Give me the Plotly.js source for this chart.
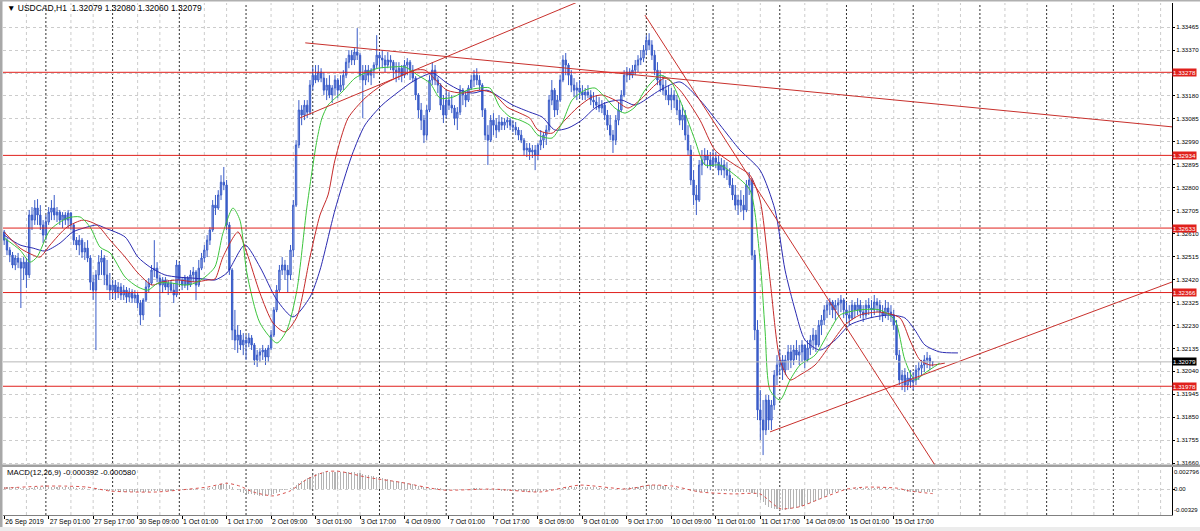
<!DOCTYPE html>
<html><head><meta charset="utf-8">
<script src="https://cdn.plot.ly/plotly-3.0.1.min.js"></script>
<style>html,body{margin:0;padding:0;background:#fff;}#chart{width:1200px;height:531px;}</style>
</head><body><div id="chart"></div>
<script>
// ---- DATA ----
const symbolTitle = "\u25BC USDCAD,H1&nbsp;&nbsp;1.32079 1.32080 1.32060 1.32079";
const macdTitle = "MACD(12,26,9) -0.000392 -0.000580";
const timeTickBars = [0,16,32,48,64,80,96,112,128,144,160,176,192,208,224,240,256,272,288,304,320];
const timeTickLabels = ["26 Sep 2019","27 Sep 01:00","27 Sep 17:00","30 Sep 09:00","1 Oct 01:00","1 Oct 17:00","2 Oct 09:00","3 Oct 01:00","3 Oct 17:00","4 Oct 09:00","7 Oct 01:00","7 Oct 17:00","8 Oct 09:00","9 Oct 01:00","9 Oct 17:00","10 Oct 09:00","11 Oct 01:00","11 Oct 17:00","14 Oct 09:00","15 Oct 01:00","15 Oct 17:00"];
const priceTicks = [1.31660,1.31755,1.31850,1.31945,1.32040,1.32135,1.32230,1.32325,1.32420,1.32515,1.32610,1.32705,1.32800,1.32895,1.32990,1.33085,1.33180,1.33275,1.33370,1.33465];
const priceTickLabels = ["1.31660","1.31755","1.31850","1.31945","1.32040","1.32135","1.32230","1.32325","1.32420","1.32515","1.32610","1.32705","1.32800","1.32895","1.32990","1.33085","1.33180","","1.33370","1.33465"];
const levels = [1.33278,1.32934,1.32633,1.32366,1.31978];
const lastPrice = 1.32079;
const macdScale = [0.002796, 0, -0.00329];
const macdScaleLabels = ['0.002796', '0.00', '-0.00329'];

const opens = [
1.32617,1.32583,1.32542,1.32521,1.32480,1.32509,1.32492,1.32467,1.32492,1.32439,
1.32687,1.32666,1.32716,1.32687,1.32646,1.32604,1.32658,1.32699,1.32716,1.32687,
1.32699,1.32666,1.32687,1.32666,1.32695,1.32646,1.32583,1.32563,1.32583,1.32534,
1.32550,1.32509,1.32409,1.32376,1.32439,1.32492,1.32509,1.32439,1.32397,1.32376,
1.32397,1.32368,1.32389,1.32356,1.32376,1.32347,1.32368,1.32343,1.32356,1.32323,
1.32273,1.32335,1.32389,1.32405,1.32459,1.32467,1.32426,1.32397,1.32418,1.32389,
1.32405,1.32376,1.32356,1.32480,1.32418,1.32397,1.32426,1.32397,1.32439,1.32451,
1.32397,1.32467,1.32509,1.32542,1.32583,1.32625,1.32728,1.32716,1.32770,1.32823,
1.32811,1.32646,1.32459,1.32211,1.32169,1.32190,1.32149,1.32169,1.32157,1.32178,
1.32149,1.32087,1.32107,1.32120,1.32128,1.32099,1.32136,1.32190,1.32294,1.32376,
1.32459,1.32480,1.32459,1.32439,1.32542,1.32728,1.32977,1.33122,1.33101,1.33142,
1.33113,1.33225,1.33266,1.33246,1.33279,1.33254,1.33204,1.33225,1.33184,1.33213,
1.33246,1.33204,1.33225,1.33266,1.33320,1.33349,1.33329,1.33362,1.33349,1.33266,
1.33246,1.33287,1.33266,1.33287,1.33308,1.33349,1.33337,1.33329,1.33308,1.33329,
1.33320,1.33287,1.33279,1.33295,1.33266,1.33308,1.33320,1.33287,1.33254,1.33184,
1.33122,1.33080,1.33018,1.33122,1.33246,1.33287,1.33246,1.33225,1.33142,1.33101,
1.33163,1.33142,1.33130,1.33088,1.33113,1.33204,1.33184,1.33163,1.33213,1.33246,
1.33266,1.33246,1.33225,1.33122,1.33018,1.32997,1.33080,1.33059,1.33039,1.33072,
1.33059,1.33072,1.33080,1.33059,1.33051,1.33039,1.33018,1.32997,1.32956,1.32964,
1.32948,1.32956,1.32935,1.32977,1.32997,1.33018,1.33039,1.33163,1.33204,1.33122,
1.33163,1.33246,1.33329,1.33308,1.33266,1.33225,1.33204,1.33213,1.33196,1.33184,
1.33196,1.33184,1.33163,1.33155,1.33142,1.33130,1.33142,1.33101,1.33059,1.33018,
1.32997,1.33080,1.33122,1.33184,1.33266,1.33279,1.33266,1.33287,1.33308,1.33329,
1.33337,1.33370,1.33411,1.33391,1.33349,1.33287,1.33246,1.33225,1.33204,1.33184,
1.33163,1.33184,1.33163,1.33122,1.33080,1.33101,1.33018,1.32956,1.32832,1.32770,
1.32749,1.32894,1.32915,1.32935,1.32915,1.32894,1.32923,1.32906,1.32873,1.32894,
1.32873,1.32852,1.32811,1.32770,1.32728,1.32749,1.32728,1.32708,1.32811,1.32832,
1.32521,1.32211,1.31880,1.31838,1.31797,1.31921,1.31838,1.31900,1.32024,1.32066,
1.32087,1.32045,1.32087,1.32120,1.32087,1.32128,1.32107,1.32120,1.32149,1.32087,
1.32136,1.32169,1.32190,1.32149,1.32231,1.32252,1.32294,1.32314,1.32327,1.32294,
1.32314,1.32323,1.32335,1.32294,1.32273,1.32260,1.32314,1.32294,1.32314,1.32285,
1.32273,1.32314,1.32302,1.32294,1.32327,1.32314,1.32285,1.32273,1.32302,1.32285,
1.32273,1.32231,1.32107,1.32004,1.32024,1.31983,1.32012,1.31996,1.32004,1.32045,
1.32053,1.32066,1.32087,1.32095,1.32079];
const highs = [
1.32625,1.32592,1.32554,1.32534,1.32521,1.32530,1.32509,1.32513,1.32509,1.32708,
1.32720,1.32749,1.32753,1.32728,1.32666,1.32687,1.32720,1.32749,1.32770,1.32720,
1.32708,1.32699,1.32699,1.32708,1.32699,1.32654,1.32596,1.32604,1.32592,1.32575,
1.32583,1.32521,1.32439,1.32459,1.32521,1.32542,1.32521,1.32501,1.32447,1.32418,
1.32418,1.32409,1.32405,1.32397,1.32389,1.32385,1.32380,1.32376,1.32368,1.32335,
1.32343,1.32418,1.32426,1.32480,1.32583,1.32492,1.32439,1.32430,1.32430,1.32418,
1.32418,1.32405,1.32501,1.32492,1.32430,1.32439,1.32434,1.32459,1.32472,1.32459,
1.32501,1.32530,1.32563,1.32604,1.32637,1.32749,1.32770,1.32790,1.32852,1.32886,
1.32832,1.32658,1.32467,1.32294,1.32231,1.32211,1.32198,1.32190,1.32198,1.32190,
1.32157,1.32128,1.32136,1.32149,1.32136,1.32149,1.32211,1.32306,1.32397,1.32480,
1.32513,1.32501,1.32480,1.32563,1.32749,1.32997,1.33163,1.33142,1.33163,1.33163,
1.33246,1.33300,1.33308,1.33308,1.33295,1.33279,1.33254,1.33266,1.33225,1.33266,
1.33254,1.33266,1.33287,1.33337,1.33370,1.33370,1.33378,1.33461,1.33358,1.33308,
1.33308,1.33308,1.33295,1.33320,1.33432,1.33362,1.33370,1.33349,1.33362,1.33349,
1.33329,1.33320,1.33320,1.33308,1.33329,1.33337,1.33329,1.33308,1.33262,1.33192,
1.33151,1.33101,1.33142,1.33266,1.33320,1.33308,1.33258,1.33233,1.33184,1.33204,
1.33196,1.33184,1.33142,1.33134,1.33225,1.33213,1.33196,1.33225,1.33266,1.33287,
1.33295,1.33266,1.33233,1.33130,1.33059,1.33101,1.33109,1.33088,1.33101,1.33093,
1.33088,1.33093,1.33088,1.33080,1.33072,1.33051,1.33039,1.33006,1.32985,1.32985,
1.32977,1.32977,1.32985,1.33039,1.33030,1.33059,1.33184,1.33246,1.33213,1.33184,
1.33266,1.33349,1.33358,1.33316,1.33287,1.33254,1.33237,1.33246,1.33225,1.33213,
1.33225,1.33204,1.33196,1.33184,1.33175,1.33163,1.33155,1.33122,1.33101,1.33039,
1.33101,1.33151,1.33204,1.33287,1.33300,1.33295,1.33308,1.33329,1.33349,1.33370,
1.33391,1.33432,1.33440,1.33411,1.33370,1.33320,1.33287,1.33266,1.33246,1.33225,
1.33213,1.33204,1.33184,1.33163,1.33142,1.33122,1.33059,1.32977,1.32873,1.32811,
1.32915,1.32956,1.32964,1.32956,1.32948,1.32956,1.32948,1.32935,1.32923,1.32915,
1.32906,1.32881,1.32840,1.32811,1.32770,1.32790,1.32770,1.32832,1.32865,1.32840,
1.32542,1.32252,1.31962,1.31921,1.31942,1.31942,1.31921,1.32045,1.32107,1.32128,
1.32107,1.32107,1.32149,1.32149,1.32149,1.32169,1.32149,1.32169,1.32149,1.32169,
1.32190,1.32219,1.32211,1.32252,1.32273,1.32314,1.32335,1.32343,1.32335,1.32335,
1.32343,1.32356,1.32343,1.32327,1.32314,1.32335,1.32327,1.32343,1.32335,1.32314,
1.32335,1.32343,1.32335,1.32356,1.32343,1.32335,1.32314,1.32335,1.32327,1.32314,
1.32294,1.32252,1.32128,1.32045,1.32053,1.32037,1.32045,1.32037,1.32066,1.32078,
1.32087,1.32107,1.32120,1.32107,1.32080];
const lows = [
1.32563,1.32521,1.32492,1.32467,1.32459,1.32467,1.32302,1.32418,1.32385,1.32426,
1.32625,1.32646,1.32646,1.32625,1.32571,1.32583,1.32646,1.32666,1.32666,1.32658,
1.32646,1.32633,1.32646,1.32633,1.32625,1.32563,1.32542,1.32521,1.32509,1.32501,
1.32492,1.32376,1.32335,1.32128,1.32418,1.32439,1.32397,1.32376,1.32335,1.32343,
1.32335,1.32343,1.32335,1.32335,1.32323,1.32327,1.32323,1.32323,1.32302,1.32231,
1.32252,1.32327,1.32368,1.32397,1.32430,1.32409,1.32265,1.32364,1.32376,1.32356,
1.32364,1.32323,1.32347,1.32397,1.32376,1.32385,1.32376,1.32389,1.32409,1.32335,
1.32389,1.32459,1.32492,1.32513,1.32563,1.32617,1.32687,1.32708,1.32749,1.32790,
1.32625,1.32439,1.32169,1.32128,1.32116,1.32128,1.32107,1.32087,1.32140,1.32128,
1.32066,1.32058,1.32078,1.32087,1.32066,1.32078,1.32128,1.32182,1.32285,1.32368,
1.32439,1.32418,1.32368,1.32418,1.32513,1.32720,1.32964,1.33059,1.33080,1.33088,
1.33101,1.33204,1.33233,1.33237,1.33237,1.33184,1.33163,1.33171,1.33151,1.33184,
1.33171,1.33196,1.33204,1.33254,1.33295,1.33308,1.33308,1.33329,1.33246,1.33088,
1.33225,1.33237,1.33225,1.33254,1.33295,1.33287,1.33295,1.33279,1.33295,1.33287,
1.33254,1.33237,1.33246,1.33237,1.33254,1.33266,1.33246,1.33237,1.33163,1.33088,
1.33039,1.32985,1.32997,1.33113,1.33225,1.33225,1.33192,1.33122,1.33068,1.33088,
1.33122,1.33109,1.33059,1.33039,1.33101,1.33142,1.33134,1.33155,1.33204,1.33217,
1.33225,1.33204,1.33093,1.32997,1.32894,1.32989,1.33018,1.33006,1.33030,1.33039,
1.33039,1.33047,1.33039,1.33030,1.33018,1.32997,1.32985,1.32935,1.32927,1.32915,
1.32923,1.32873,1.32915,1.32956,1.32964,1.32977,1.33030,1.33142,1.33093,1.33101,
1.33155,1.33237,1.33266,1.33225,1.33196,1.33175,1.33163,1.33171,1.33163,1.33163,
1.33171,1.33142,1.33130,1.33122,1.33113,1.33109,1.33080,1.33039,1.32997,1.32944,
1.32977,1.33059,1.33113,1.33175,1.33237,1.33246,1.33254,1.33266,1.33279,1.33308,
1.33320,1.33349,1.33370,1.33329,1.33266,1.33225,1.33196,1.33184,1.33163,1.33142,
1.33122,1.33130,1.33101,1.33059,1.33039,1.32997,1.32935,1.32811,1.32728,1.32687,
1.32741,1.32852,1.32894,1.32881,1.32873,1.32886,1.32881,1.32852,1.32852,1.32840,
1.32832,1.32799,1.32749,1.32708,1.32687,1.32699,1.32666,1.32699,1.32770,1.32501,
1.32169,1.31838,1.31755,1.31693,1.31776,1.31797,1.31797,1.31880,1.31983,1.32024,
1.32004,1.32024,1.32045,1.32053,1.32066,1.32087,1.32066,1.32078,1.32053,1.32078,
1.32107,1.32128,1.32120,1.32140,1.32190,1.32231,1.32260,1.32273,1.32260,1.32252,
1.32273,1.32285,1.32260,1.32244,1.32231,1.32252,1.32260,1.32273,1.32260,1.32244,
1.32260,1.32273,1.32260,1.32273,1.32285,1.32252,1.32244,1.32260,1.32252,1.32244,
1.32211,1.32087,1.31983,1.31962,1.31954,1.31962,1.31971,1.31962,1.31983,1.32004,
1.32024,1.32037,1.32053,1.32045,1.32060];
const closes = [
1.32583,1.32542,1.32521,1.32480,1.32509,1.32492,1.32467,1.32492,1.32439,1.32687,
1.32666,1.32716,1.32687,1.32646,1.32604,1.32658,1.32699,1.32716,1.32687,1.32699,
1.32666,1.32687,1.32666,1.32695,1.32646,1.32583,1.32563,1.32583,1.32534,1.32550,
1.32509,1.32409,1.32376,1.32439,1.32492,1.32509,1.32439,1.32397,1.32376,1.32397,
1.32368,1.32389,1.32356,1.32376,1.32347,1.32368,1.32343,1.32356,1.32323,1.32273,
1.32335,1.32389,1.32405,1.32459,1.32467,1.32426,1.32397,1.32418,1.32389,1.32405,
1.32376,1.32356,1.32480,1.32418,1.32397,1.32426,1.32397,1.32439,1.32451,1.32397,
1.32467,1.32509,1.32542,1.32583,1.32625,1.32728,1.32716,1.32770,1.32823,1.32811,
1.32646,1.32459,1.32211,1.32169,1.32190,1.32149,1.32169,1.32157,1.32178,1.32149,
1.32087,1.32107,1.32120,1.32128,1.32099,1.32136,1.32190,1.32294,1.32376,1.32459,
1.32480,1.32459,1.32439,1.32542,1.32728,1.32977,1.33122,1.33101,1.33142,1.33113,
1.33225,1.33266,1.33246,1.33279,1.33254,1.33204,1.33225,1.33184,1.33213,1.33246,
1.33204,1.33225,1.33266,1.33320,1.33349,1.33329,1.33362,1.33349,1.33266,1.33246,
1.33287,1.33266,1.33287,1.33308,1.33349,1.33337,1.33329,1.33308,1.33329,1.33320,
1.33287,1.33279,1.33295,1.33266,1.33308,1.33320,1.33287,1.33254,1.33184,1.33122,
1.33080,1.33018,1.33122,1.33246,1.33287,1.33246,1.33225,1.33142,1.33101,1.33163,
1.33142,1.33130,1.33088,1.33113,1.33204,1.33184,1.33163,1.33213,1.33246,1.33266,
1.33246,1.33225,1.33122,1.33018,1.32997,1.33080,1.33059,1.33039,1.33072,1.33059,
1.33072,1.33080,1.33059,1.33051,1.33039,1.33018,1.32997,1.32956,1.32964,1.32948,
1.32956,1.32935,1.32977,1.32997,1.33018,1.33039,1.33163,1.33204,1.33122,1.33163,
1.33246,1.33329,1.33308,1.33266,1.33225,1.33204,1.33213,1.33196,1.33184,1.33196,
1.33184,1.33163,1.33155,1.33142,1.33130,1.33142,1.33101,1.33059,1.33018,1.32997,
1.33080,1.33122,1.33184,1.33266,1.33279,1.33266,1.33287,1.33308,1.33329,1.33337,
1.33370,1.33411,1.33391,1.33349,1.33287,1.33246,1.33225,1.33204,1.33184,1.33163,
1.33184,1.33163,1.33122,1.33080,1.33101,1.33018,1.32956,1.32832,1.32770,1.32749,
1.32894,1.32915,1.32935,1.32915,1.32894,1.32923,1.32906,1.32873,1.32894,1.32873,
1.32852,1.32811,1.32770,1.32728,1.32749,1.32728,1.32708,1.32811,1.32832,1.32521,
1.32211,1.31880,1.31838,1.31797,1.31921,1.31838,1.31900,1.32024,1.32066,1.32087,
1.32045,1.32087,1.32120,1.32087,1.32128,1.32107,1.32120,1.32149,1.32087,1.32136,
1.32169,1.32190,1.32149,1.32231,1.32252,1.32294,1.32314,1.32327,1.32294,1.32314,
1.32323,1.32335,1.32294,1.32273,1.32260,1.32314,1.32294,1.32314,1.32285,1.32273,
1.32314,1.32302,1.32294,1.32327,1.32314,1.32285,1.32273,1.32302,1.32285,1.32273,
1.32231,1.32107,1.32004,1.32024,1.31983,1.32012,1.31996,1.32004,1.32045,1.32053,
1.32066,1.32087,1.32095,1.32078,1.32079];

// Alligator lines: bar position / price
const jawBars = [0,5.7,10.4,14.7,20.1,24.7,29.8,33.4,36.3,43.5,48.1,52.4,57.8,62.5,67.6,72.2,75.8,80.1,86.6,92,98.1,103.9,110,113.6,119,125.1,129.8,135.9,141.7,146.7,151.4,154.2,159.3,164,168.6,173.7,178.3,183,189.1,193.5,198.1,202.8,207.8,212.5,217.2,222.2,226.9,235.9,243.1,250.3,257.5,264.7,271.9,277.3,280.9,284.5,288.1,293.5,298.9,304.2,311.4,318.6,324,327.6,331.2,336.6,343.1];
const jawValues = [1.32604,1.32563,1.32550,1.32538,1.32571,1.32617,1.32637,1.32646,1.32633,1.32596,1.32513,1.32472,1.32439,1.32430,1.32426,1.32422,1.32418,1.32447,1.32563,1.32472,1.32335,1.32265,1.32347,1.32459,1.32708,1.32935,1.33060,1.33142,1.33196,1.33238,1.33266,1.33275,1.33233,1.33204,1.33192,1.33204,1.33175,1.33142,1.33113,1.33093,1.33039,1.33047,1.33080,1.33130,1.33155,1.33163,1.33142,1.33204,1.33238,1.33163,1.33060,1.32956,1.32873,1.32708,1.32459,1.32294,1.32169,1.32128,1.32169,1.32232,1.32261,1.32273,1.32261,1.32211,1.32149,1.32120,1.32116];
const teethBars = [0,5.7,10.4,12.9,16.5,22.6,28.4,33.4,38.1,43.5,48.1,53.2,56.8,62.5,68.6,73.3,75.8,78.7,84.1,87.3,92,96.7,101,105.3,110,113.6,116.5,119,123.7,129.8,135.9,141.7,147.8,151.4,154.2,159.3,165,171.1,175.8,180.9,185.5,189.1,192,197.1,201.7,206.4,211.4,215.1,219.7,224.4,228.7,234.1,237.7,243.1,250.3,255.7,262.9,268.3,271.9,275.5,279.1,282.7,286.3,291.7,297.1,302.5,307.8,315,322.2,325.8,329.4,333,338.4];
const teethValues = [1.32617,1.32550,1.32521,1.32513,1.32563,1.32637,1.32666,1.32646,1.32583,1.32513,1.32447,1.32397,1.32410,1.32418,1.32410,1.32418,1.32422,1.32513,1.32617,1.32530,1.32364,1.32240,1.32203,1.32265,1.32513,1.32687,1.32770,1.32915,1.33088,1.33171,1.33225,1.33258,1.33287,1.33287,1.33258,1.33204,1.33192,1.33204,1.33192,1.33134,1.33109,1.33088,1.33039,1.33026,1.33080,1.33134,1.33175,1.33184,1.33163,1.33130,1.33163,1.33225,1.33254,1.33204,1.33080,1.32956,1.32894,1.32852,1.32749,1.32418,1.32087,1.32004,1.32025,1.32066,1.32149,1.32232,1.32273,1.32285,1.32261,1.32169,1.32087,1.32066,1.32074];
const lipsBars = [0,5.7,9.3,11.8,16.5,22.6,27.3,30.9,34.5,38.1,43.5,48.1,51.7,55.3,60.4,65,68.6,72.2,75.8,78.7,82.3,84.8,87.3,92,98.1,101.7,105.3,108.9,112.5,114.3,116.5,121.5,126.2,129.8,134.5,139.5,144.2,148.8,153.2,156.8,161.4,166.5,171.1,174.7,178.3,182,185.5,189.1,192,197.1,200.7,204.3,208.9,212.5,216.1,219.7,223.3,226.9,230.5,235.9,239.5,243.1,248.5,252.1,257.5,262.9,268.3,271.9,273.7,275.5,279.1,282.7,286.3,291.7,297.1,300.7,307.8,315,320.4,324,327.6,331.2,336.6];
const lipsValues = [1.32592,1.32542,1.32492,1.32513,1.32625,1.32674,1.32679,1.32637,1.32554,1.32530,1.32430,1.32389,1.32376,1.32405,1.32405,1.32397,1.32405,1.32430,1.32472,1.32612,1.32716,1.32666,1.32447,1.32240,1.32157,1.32211,1.32376,1.32720,1.32997,1.33088,1.33142,1.33196,1.33254,1.33275,1.33295,1.33300,1.33300,1.33266,1.33233,1.33171,1.33175,1.33204,1.33213,1.33213,1.33134,1.33093,1.33080,1.33059,1.33018,1.33006,1.33068,1.33163,1.33204,1.33213,1.33175,1.33130,1.33109,1.33134,1.33204,1.33266,1.33246,1.33163,1.32997,1.32894,1.32894,1.32852,1.32790,1.32501,1.32211,1.31962,1.31921,1.32004,1.32066,1.32107,1.32211,1.32273,1.32294,1.32294,1.32252,1.32087,1.32004,1.32033,1.32074];

// Trend lines drawn on the chart: [bar0, price0, bar1, price1]
const trendLines = [
  [106.4, 1.33089, 215.0, 1.33611],
  [108.3, 1.33400, 420.2, 1.33052],
  [230.5, 1.33515, 334.8, 1.31652],
  [275.5, 1.31789, 420.2, 1.32410]
];

// MACD(12,26,9): main (histogram) per bar, signal sampled
const macdMain = [
0.00025,0.00026,0.00025,0.00023,0.00020,0.00018,0.00015,0.00012,0.00010,0.00012,0.00016,0.00020,0.00023,0.00025,0.00026,0.00027,
0.00028,0.00029,0.00030,0.00030,0.00029,0.00028,0.00027,0.00026,0.00024,0.00021,0.00018,0.00015,0.00012,0.00009,0.00006,0.00002,-0.00003,-0.00007,-0.00008,-0.00009,-0.00012,-0.00016,-0.00020,
-0.00024,-0.00027,-0.00029,-0.00031,-0.00033,-0.00035,-0.00036,-0.00037,-0.00038,-0.00040,-0.00043,-0.00042,-0.00038,-0.00034,-0.00030,-0.00026,-0.00024,-0.00022,-0.00021,-0.00020,-0.00020,-0.00020,
-0.00020,-0.00016,-0.00014,-0.00012,-0.00011,-0.00010,-0.00008,-0.00006,-0.00005,-0.00002,
0.00002,0.00007,0.00013,0.00019,0.00030,0.00040,0.00050,0.00060,0.00066,0.00062,0.00046,0.00022,
0.00000,-0.00018,-0.00032,-0.00044,-0.00054,-0.00062,-0.00068,-0.00075,-0.00080,-0.00082,-0.00083,-0.00082,-0.00080,-0.00074,-0.00062,
-0.00048,-0.00032,-0.00018,-0.00008,0.00000,0.00008,0.00025,
0.00050,0.00078,0.00100,0.00120,0.00138,0.00158,0.00176,0.00190,0.00200,0.00208,0.00212,
0.00214,0.00214,0.00213,0.00213,0.00212,0.00211,0.00211,0.00212,0.00214,0.00215,
0.00210,0.00205,0.00198,0.00190,0.00182,0.00175,0.00168,0.00160,0.00152,0.00145,0.00138,0.00130,0.00122,0.00115,0.00108,0.00100,0.00094,0.00088,0.00082,0.00076,
0.00070,0.00064,0.00055,0.00045,0.00035,0.00024,0.00016,0.00014,0.00014,0.00013,0.00011,0.00008,0.00004,0.00001,-0.00001,
-0.00002,-0.00004,-0.00004,-0.00002,0.00000,0.00001,0.00003,0.00006,0.00008,0.00009,0.00009,0.00006,0.00000,-0.00006,-0.00010,-0.00013,-0.00016,-0.00018,-0.00019,-0.00020,-0.00021,-0.00022,-0.00023,-0.00024,-0.00025,-0.00027,-0.00029,-0.00031,-0.00032,-0.00033,
-0.00034,-0.00033,-0.00030,-0.00027,-0.00023,-0.00015,-0.00008,-0.00004,0.00000,0.00006,
0.00014,0.00020,0.00024,0.00026,0.00027,0.00028,0.00028,0.00028,0.00027,0.00026,0.00025,0.00023,0.00021,0.00019,0.00017,0.00014,0.00010,0.00005,0.00001,0.00000,0.00001,0.00005,0.00011,0.00016,0.00020,
0.00024,0.00028,0.00032,0.00036,0.00040,0.00045,0.00049,0.00050,0.00049,0.00046,0.00042,0.00038,0.00033,0.00028,0.00023,
0.00018,0.00013,0.00007,0.00002,-0.00005,-0.00012,-0.00021,-0.00030,-0.00036,-0.00036,-0.00035,-0.00033,-0.00031,-0.00029,-0.00027,-0.00026,-0.00026,-0.00026,-0.00026,-0.00027,-0.00029,-0.00032,-0.00036,-0.00039,-0.00041,-0.00043,-0.00042,-0.00040,
-0.00048,-0.00068,-0.00100,-0.00135,-0.00170,-0.00198,-0.00222,-0.00240,-0.00250,-0.00256,-0.00260,-0.00262,
-0.00262,-0.00258,-0.00253,-0.00246,-0.00238,-0.00228,-0.00218,-0.00206,-0.00194,-0.00180,-0.00166,-0.00150,-0.00133,-0.00116,-0.00098,-0.00080,-0.00064,-0.00050,-0.00038,-0.00027,
-0.00018,-0.00010,-0.00004,0.00001,0.00005,0.00008,0.00010,0.00011,0.00012,0.00012,0.00012,0.00012,0.00012,0.00012,0.00011,0.00010,0.00009,0.00008,0.00007,0.00005,
-0.00001,-0.00010,-0.00018,-0.00025,-0.00031,-0.00035,-0.00038,-0.00040,-0.00041,-0.00041,-0.00041,-0.00040,-0.00040,-0.000392];
const signalBars = [0,14,22.6,29.8,38.1,46.3,55,63.2,73,80.1,84.8,89.5,96.7,102.8,108.9,116.1,120.8,130.5,142.4,157.8,175.8,192.7,207.1,224,232.3,240.6,250.3,262.2,271.9,279.1,286.3,293.5,303.2,310.4,321.1,325.8,334];
const signalValues = [0.00012,0.00037,0.00037,0.00025,-0.00025,-0.00037,-0.00037,-0.00012,0.00025,0.00074,0.00037,-0.00037,-0.00087,-0.00025,0.00124,0.00223,0.00223,0.00149,0.00087,-0.00012,0.0,-0.00037,0.0005,0.0,0.0005,0.00037,-0.00037,-0.00062,-0.00062,-0.00248,-0.00223,-0.00124,0.0,0.00025,0.00012,-0.00025,-0.00058];

// ---- CHART ----
const barIndex = opens.map((_, i) => i);
const FONT = 'Liberation Sans, Arial, sans-serif';
const W = 1200, H = 531, ML = 3, MR = 28, MT = 3, MB = 16;
const plotH = H - MT - MB;
const py = p => (H - MB - p) / plotH;          // pixel row -> paper y
const pxp = p => (p - ML) / (W - ML - MR);       // pixel col -> paper x

const traces = [];
traces.push({
  type: 'candlestick', x: barIndex, open: opens, high: highs, low: lows, close: closes,
  xaxis: 'x', yaxis: 'y', whiskerwidth: 0, hoverinfo: 'skip', showlegend: false,
  increasing: {line: {color: '#3a5cc8', width: 1}, fillcolor: '#a8b9e6'},
  decreasing: {line: {color: '#3a5cc8', width: 1}, fillcolor: '#3a5cc8'}
});
const maLine = (xs, ys, color) => ({type: 'scatter', mode: 'lines', x: xs, y: ys, xaxis: 'x', yaxis: 'y',
  line: {color: color, width: 1, shape: 'spline', smoothing: 0.7}, hoverinfo: 'skip', showlegend: false});
traces.push(maLine(jawBars, jawValues, '#2a2ab0'));
traces.push(maLine(teethBars, teethValues, '#c42a2a'));
traces.push(maLine(lipsBars, lipsValues, '#3cc43c'));
trendLines.forEach(t => traces.push({type: 'scatter', mode: 'lines', x: [t[0], t[2]], y: [t[1], t[3]],
  xaxis: 'x', yaxis: 'y', line: {color: '#c8302c', width: 1}, hoverinfo: 'skip', showlegend: false}));
traces.push({type: 'bar', x: barIndex, y: macdMain, xaxis: 'x', yaxis: 'y2', width: 0.38,
  marker: {color: '#b4b4b4', line: {width: 0}}, hoverinfo: 'skip', showlegend: false});
traces.push({type: 'scatter', mode: 'lines', x: signalBars, y: signalValues, xaxis: 'x', yaxis: 'y2',
  line: {color: '#d9534f', width: 1, dash: 'dot', shape: 'spline', smoothing: 0.6}, hoverinfo: 'skip', showlegend: false});

const shapes = [];
for (let b = 8; b <= 420; b += 8) {
  if (b % 24 === 16) continue;
  shapes.push({type: 'line', xref: 'x', yref: 'paper', x0: b, x1: b, y0: 0, y1: 1, layer: 'below',
    line: {color: '#cccccc', width: 1, dash: '3px,3px'}});
}
for (let b = 15; b <= 420; b += 24) {
  shapes.push({type: 'line', xref: 'x', yref: 'paper', x0: b, x1: b, y0: 0, y1: 1, layer: 'below',
    line: {color: '#303030', width: 1, dash: '2px,2px'}});
}
levels.forEach(v => shapes.push({type: 'line', xref: 'paper', yref: 'y', x0: 0, x1: 1, y0: v, y1: v,
  line: {color: '#e0201c', width: 1}}));
shapes.push({type: 'line', xref: 'paper', yref: 'y', x0: 0, x1: 1, y0: lastPrice, y1: lastPrice,
  line: {color: '#b8b8b8', width: 1}});
shapes.push({type: 'rect', xref: 'paper', yref: 'paper', x0: pxp(0), x1: pxp(1200), y0: py(467), y1: py(464.5),
  fillcolor: '#a0a0a0', line: {width: 0}});
shapes.push({type: 'rect', xref: 'paper', yref: 'paper', x0: pxp(0), x1: pxp(2.5), y0: py(531), y1: py(0),
  fillcolor: '#a8a8a8', line: {width: 0}});
shapes.push({type: 'rect', xref: 'paper', yref: 'paper', x0: pxp(0), x1: pxp(1200), y0: py(1.5), y1: py(0),
  fillcolor: '#b0b0b0', line: {width: 0}});
shapes.push({type: 'rect', xref: 'paper', yref: 'paper', x0: pxp(0), x1: pxp(1200), y0: py(531), y1: py(527),
  fillcolor: '#ececec', line: {width: 0}});

const annotations = [];
annotations.push({xref: 'paper', yref: 'paper', x: pxp(5), y: py(8), xanchor: 'left', yanchor: 'middle',
  text: symbolTitle, showarrow: false, font: {family: FONT, size: 8.5, color: '#000'}});
annotations.push({xref: 'paper', yref: 'paper', x: pxp(5), y: py(472), xanchor: 'left', yanchor: 'middle',
  text: macdTitle, showarrow: false, font: {family: FONT, size: 7.8, color: '#000'}});
levels.forEach(v => annotations.push({xref: 'paper', yref: 'y', x: 1, y: v, xanchor: 'left', yanchor: 'middle',
  xshift: 0, text: v.toFixed(5), showarrow: false, bgcolor: '#e0201c', borderpad: 0,
  font: {family: FONT, size: 6.2, color: '#ffffff'}}));
annotations.push({xref: 'paper', yref: 'y', x: 1, y: lastPrice, xanchor: 'left', yanchor: 'middle',
  xshift: 0, text: lastPrice.toFixed(5), showarrow: false, bgcolor: '#000000', borderpad: 0,
  font: {family: FONT, size: 6.2, color: '#ffffff'}});
const macdAnch = ['top', 'middle', 'bottom'];
macdScale.forEach((v, k) => annotations.push({xref: 'paper', yref: 'y2', x: 1, y: v, xanchor: 'left',
  yanchor: macdAnch[k], xshift: 0, text: macdScaleLabels[k], showarrow: false, font: {family: FONT, size: 6, color: '#000'}}));

const layout = {
  width: W, height: H, margin: {l: ML, r: MR, t: MT, b: MB, pad: 0},
  paper_bgcolor: '#ffffff', plot_bgcolor: '#ffffff', showlegend: false, dragmode: false,
  font: {family: FONT, size: 6.5, color: '#000'},
  xaxis: {range: [-0.43, 420.1], anchor: 'y2', rangeslider: {visible: false},
    tickmode: 'array', tickvals: timeTickBars, ticktext: timeTickLabels, ticks: 'outside', ticklen: 3,
    tickangle: 0, tickcolor: '#000', ticklabelposition: 'outside right', tickfont: {family: FONT, size: 6.8, color: '#000'},
    showgrid: false, zeroline: false, showline: true, linecolor: '#808080', linewidth: 1, fixedrange: true},
  yaxis: {domain: [py(464.5), 1], range: [1.31654, 1.33565], side: 'right', anchor: 'x',
    tickmode: 'array', tickvals: priceTicks, ticktext: priceTickLabels,
    ticks: 'outside', ticklen: 2, tickcolor: '#000', tickfont: {family: FONT, size: 6.2, color: '#000'},
    showgrid: true, gridcolor: '#cccccc', griddash: '3px,3px', gridwidth: 1,
    zeroline: false, showline: true, linecolor: '#000', linewidth: 1, fixedrange: true},
  yaxis2: {domain: [0, py(467)], range: [-0.00329, 0.002796], side: 'right', anchor: 'x',
    tickmode: 'array', tickvals: [0], showticklabels: false, ticks: 'outside', ticklen: 2, tickcolor: '#000',
    showgrid: true, gridcolor: '#cccccc', griddash: '3px,3px', zeroline: false,
    showline: true, linecolor: '#000', linewidth: 1, fixedrange: true},
  shapes: shapes, annotations: annotations, bargap: 0
};
Plotly.newPlot('chart', traces, layout, {staticPlot: true, displayModeBar: false});
</script></body></html>
